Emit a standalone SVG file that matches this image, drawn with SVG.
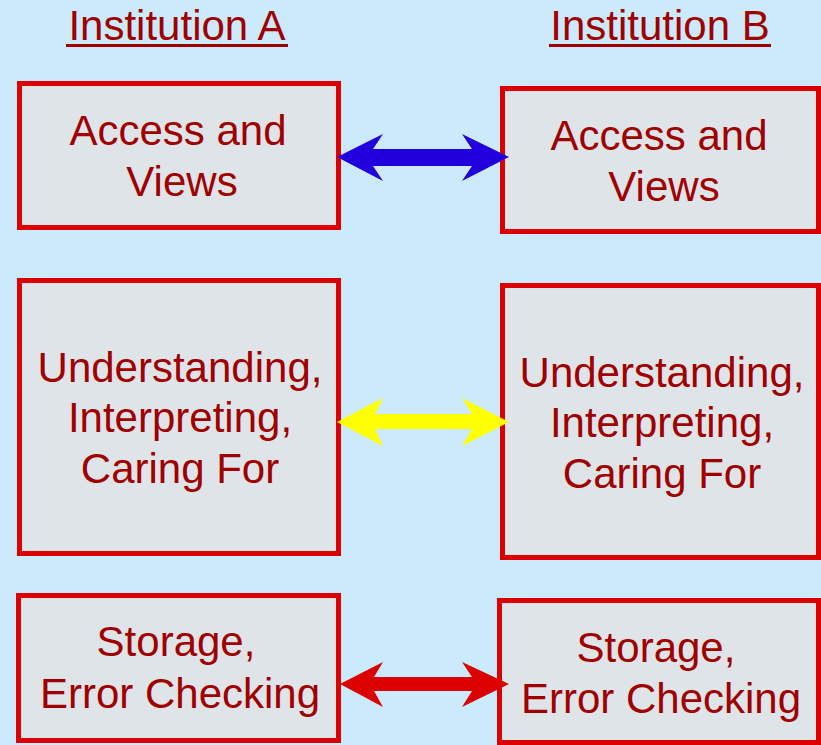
<svg xmlns="http://www.w3.org/2000/svg" width="821" height="745" viewBox="0 0 821 745">
<style>
.box{fill:#dfe4e9;stroke:#dd0000;stroke-width:5}
.t{font-family:"Liberation Sans",Arial,sans-serif;font-size:42px;fill:#a00000;text-anchor:middle}
.ul{stroke:#a00000;stroke-width:3}
</style>
<rect width="821" height="745" fill="#cbeafc"/>
<g id="title-a"><text class="t" x="177" y="40">Institution A</text><line class="ul" x1="66" y1="45.5" x2="288" y2="45.5"/></g>
<g id="title-b"><text class="t" x="660" y="40">Institution B</text><line class="ul" x1="549" y1="45.5" x2="771" y2="45.5"/></g>
<g id="a1"><rect class="box" x="19.5" y="83.5" width="319" height="144"/><text class="t" x="178" y="145">Access and</text><text class="t" x="182" y="196">Views</text></g>
<g id="b1"><rect class="box" x="502.5" y="88.5" width="316" height="143"/><text class="t" x="659" y="150">Access and</text><text class="t" x="664" y="201">Views</text></g>
<g id="a2"><rect class="box" x="19.5" y="280.5" width="319" height="273"/><text class="t" x="180" y="382">Understanding,</text><text class="t" x="180" y="432">Interpreting,</text><text class="t" x="180" y="483">Caring For</text></g>
<g id="b2"><rect class="box" x="502.5" y="285.5" width="316" height="272"/><text class="t" x="662" y="387">Understanding,</text><text class="t" x="662" y="437">Interpreting,</text><text class="t" x="662" y="488">Caring For</text></g>
<g id="a3"><rect class="box" x="18.5" y="595.5" width="320" height="145"/><text class="t" x="176" y="656">Storage,</text><text class="t" x="180" y="708">Error Checking</text></g>
<g id="b3"><rect class="box" x="499.5" y="600.5" width="319" height="142"/><text class="t" x="656" y="662">Storage,</text><text class="t" x="661" y="713">Error Checking</text></g>
<g id="connectors">
<polygon fill="#2200dd" points="337,157 383,134 373,149 472,149 462,134 509,157 462,181 472,166 373,166 383,181"/>
<polygon fill="#ffff00" points="337,422 383,398 375,414 472,414 462,398 509,422 462,446 472,429 375,429 383,446"/>
<polygon fill="#dd0000" points="340,684 383,662 374,677 472,677 462,662 509,684 462,707 472,691 374,691 383,707"/>
</g>
</svg>
